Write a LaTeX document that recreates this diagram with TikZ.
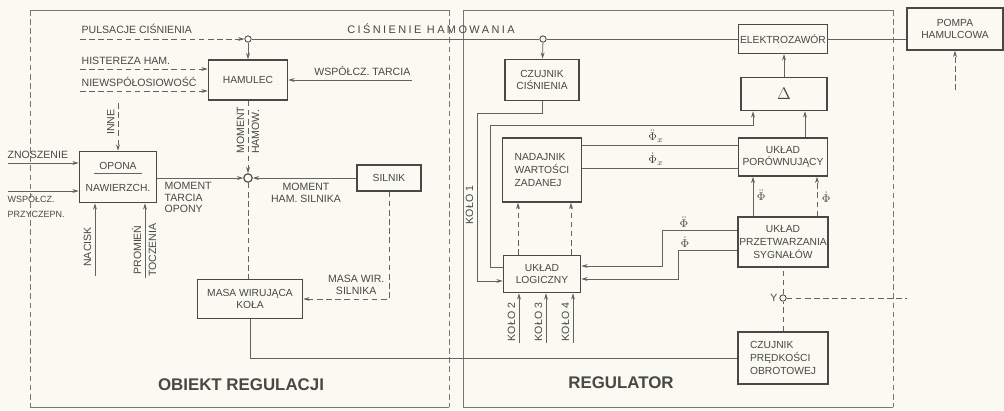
\documentclass[tikz,border=0pt]{standalone}
\usepackage{fontspec}
\setmainfont{Liberation Sans}
\usepackage{xcolor}
\usepackage{tikz}
\usetikzlibrary{arrows.meta,positioning,calc}
\definecolor{paper}{RGB}{250,250,242}
\definecolor{ink}{RGB}{72,72,68}

\begin{document}
\begin{tikzpicture}[x=0.025cm, y=-0.025cm,
    blok/.style={draw=ink, line width=1pt, align=center, inner sep=1pt, text=ink, font=\fontsize{7.3}{9}\selectfont},
    lbl/.style={text=ink, inner sep=1pt, font=\fontsize{7.5}{8.5}\selectfont},
    fi/.style={text=ink, inner sep=0.5pt, font=\fontsize{8.5}{9}\selectfont},
    lin/.style={draw=ink!85, line width=0.55pt},
    arrow/.style={lin, -{Stealth[length=4.5pt,width=2.8pt]}},
    dashline/.style={dash pattern=on 4pt off 2.5pt},
    wezel/.style={circle, draw=ink, fill=paper, line width=0.6pt, inner sep=0pt, minimum size=4.5pt},
    ramka/.style={draw=ink!75, line width=0.5pt},
    big/.style={text=ink, font=\bfseries\fontsize{12}{13}\selectfont}
]
    \path[use as bounding box, fill=paper] (0,0) rectangle (1004,410);

    % frames
    \draw[ramka] (30,10) -- (449,10) (30,407) -- (449,407);
    \draw[ramka, dashline] (30,10) -- (30,407) (449,10) -- (449,407);
    \draw[ramka] (893,10) -- (463,10) -- (463,407) -- (893,407);
    \draw[ramka, dashline] (893,10) -- (893,407);
    \node[big] (obiekt) at (241,385) {OBIEKT REGULACJI};
    \node[big] (regulator) at (621,383) {REGULATOR};

    % blocks of the controlled object
    \node[blok, minimum width=1.98cm, minimum height=1cm] (hamulec) at (248,80) {HAMULEC};
    \node[blok, minimum width=1.93cm, minimum height=1.28cm] (opona) at (118,177) {OPONA\\[6pt]NAWIERZCH.};
    \draw[lin] (94,173) -- (142,173);
    \node[blok, minimum width=1.6cm, minimum height=0.65cm] (silnik) at (389,178) {SILNIK};
    \node[blok, minimum width=2.63cm, minimum height=0.98cm] (masa) at (250,299) {MASA WIRUJĄCA\\KOŁA};

    % blocks of the regulator
    \node[blok, minimum width=1.85cm, minimum height=1.03cm] (czcisn) at (542,80) {CZUJNIK\\CIŚNIENIA};
    \node[blok, minimum width=2.23cm, minimum height=0.72cm] (elektro) at (783,39) {ELEKTROZAWÓR};
    \node[blok, minimum width=2.4cm, minimum height=1.05cm] (pompa) at (955,29) {POMPA\\HAMULCOWA};
    \node[blok, minimum width=2.15cm, minimum height=0.83cm, font=\large] (delta) at (784,94) {$\Delta$};
    \node[blok, minimum width=2.23cm, minimum height=0.95cm] (porown) at (783,157) {UKŁAD\\PORÓWNUJĄCY};
    \node[blok, minimum width=2.23cm, minimum height=1.25cm] (przetw) at (783,242) {UKŁAD\\PRZETWARZANIA\\SYGNAŁÓW};
    \node[blok, minimum width=1.98cm, minimum height=1.6cm, align=left] (nadajnik) at (542,170) {NADAJNIK\\WARTOŚCI\\ZADANEJ};
    \node[blok, minimum width=1.93cm, minimum height=0.93cm] (logiczny) at (542,274) {UKŁAD\\LOGICZNY};
    \node[blok, minimum width=2.25cm, minimum height=1.3cm, align=left] (czpred) at (783,358) {CZUJNIK\\PRĘDKOŚCI\\OBROTOWEJ};

    % brake pressure line
    \coordinate (pulsIn) at (80,39);
    \node[wezel] (w1) at (248,39) {};
    \node[wezel] (w2) at (543,39) {};
    \draw[arrow, dashline] (pulsIn) -- (w1);
    \node[lbl, anchor=south west] (pulsL) at (80,35) {PULSACJE CIŚNIENIA};
    \draw[arrow] (w1) -- (hamulec);
    \draw[lin] (w1) -- (w2);
    \draw[lin] (w2) -- (elektro);
    \node[lbl, anchor=south, font=\fontsize{7.8}{9}\selectfont\addfontfeature{LetterSpace=22}] (cisnL) at (431,35) {CIŚNIENIE HAMOWANIA};
    \draw[arrow] (w2) -- (czcisn);
    \draw[lin] (elektro) -- (pompa.west |- elektro.east);
    \coordinate (pompaIn) at (955,90);
    \draw[arrow, dashline] (pompaIn) -- (pompa);

    % inputs of the brake
    \coordinate (histIn) at (80,69);
    \coordinate (niewIn) at (80,91);
    \coordinate (tarcIn) at (412,80);
    \draw[arrow, dashline] (histIn) -- (hamulec.west |- histIn);
    \draw[arrow, dashline] (niewIn) -- (hamulec.west |- niewIn);
    \draw[arrow] (tarcIn) -- (hamulec.east |- tarcIn);
    \node[lbl, anchor=south west] (histL) at (80,66) {HISTEREZA HAM.};
    \node[lbl, anchor=south west] (niewL) at (80,88) {NIEWSPÓŁOSIOWOŚĆ};
    \node[lbl, anchor=south east] (tarcL) at (412,77) {WSPÓŁCZ. TARCIA};

    % inputs of the tyre
    \coordinate (inneIn) at (118,103);
    \coordinate (znosIn) at (8,163);
    \coordinate (przyIn) at (8,191);
    \coordinate (naciIn) at (95,276);
    \coordinate (promIn) at (145,278);
    \draw[arrow, dashline] (inneIn) -- (opona);
    \draw[arrow] (znosIn) -- (opona.west |- znosIn);
    \draw[arrow] (przyIn) -- (opona.west |- przyIn);
    \draw[arrow] (naciIn) -- (opona.south -| naciIn);
    \draw[arrow] (promIn) -- (opona.south -| promIn);
    \node[lbl, rotate=90, anchor=south] (inneL) at (116,122) {INNE};
    \node[lbl, anchor=south west] (znosL) at (6,160) {ZNOSZENIE};
    \node[lbl, anchor=north west, align=left, font=\fontsize{6.4}{11}\selectfont] (przyL) at (6,193) {WSPÓŁCZ.\\PRZYCZEPN.};
    \node[lbl, rotate=90, anchor=south] (naciL) at (93,247) {NACISK};
    \node[lbl, rotate=90, anchor=south] (promL) at (143,250) {PROMIEŃ};
    \node[lbl, rotate=90, anchor=north] (toczL) at (147,250) {TOCZENIA};

    % summing point of the moments
    \node[circle, draw=ink, line width=0.8pt, inner sep=0pt, minimum size=6pt] (suma) at (248,178) {};
    \draw[arrow] (opona.east |- suma) -- (suma);
    \draw[arrow, dashline] (hamulec) -- (suma);
    \draw[arrow] (silnik) -- (suma);
    \draw[lin, dashline] (suma) -- (suma |- masa.north);
    \node[lbl, rotate=90, anchor=south] (momhL) at (246,130) {MOMENT};
    \node[lbl, rotate=90, anchor=north] (hamowL) at (250,132) {HAMOW.};
    \node[lbl, anchor=north west, align=left] (momtL) at (163,180) {MOMENT\\TARCIA\\OPONY};
    \node[lbl, anchor=north, align=center] (momsL) at (306,181) {MOMENT\\HAM. SILNIKA};

    % rotating mass
    \draw[arrow, dashline] (silnik.south) |- (masa.east);
    \node[lbl, anchor=south east, align=center] (masaL) at (386,296) {MASA WIR.\\SILNIKA};
    \draw[lin] (masa.south) |- (czpred.west);

    % regulator connections
    \draw[arrow] (czcisn.south) |- (477,113) |- (logiczny.west |- 0,281);
    \node[lbl, rotate=90, anchor=south] (kolo1L) at (475,205) {KOŁO 1};
    \draw[arrow] (logiczny.west |- 0,267) -| (490,125) -| (delta.south -| 753,0);
    \draw[arrow] (porown.north -| 805,0) -- (delta.south -| 805,0);
    \draw[arrow] (delta.north) -- (elektro.south -| delta.north);
    \draw[lin] (nadajnik.east |- 0,145) -- (porown.west |- 0,145);
    \draw[lin] (nadajnik.east |- 0,168) -- (porown.west |- 0,168);
    \node[fi, anchor=south] (fi1L) at (656,143) {$\ddot{\Phi}_x$};
    \node[fi, anchor=south] (fi2L) at (656,166) {$\dot{\Phi}_x$};
    \draw[arrow, dashline] (logiczny.north -| 518,0) -- (nadajnik.south -| 518,0);
    \draw[arrow, dashline] (logiczny.north -| 571,0) -- (nadajnik.south -| 571,0);
    \draw[arrow] (przetw.north -| 753,0) -- (porown.south -| 753,0);
    \draw[arrow, dashline] (przetw.north -| 817,0) -- (porown.south -| 817,0);
    \node[fi, anchor=west] (fi3L) at (756,195) {$\ddot{\Phi}$};
    \node[fi, anchor=west] (fi4L) at (821,197) {$\dot{\Phi}$};
    \draw[arrow] (przetw.west |- 0,230) -| (662,266) -- (logiczny.east |- 0,266);
    \draw[arrow] (przetw.west |- 0,250) -| (678,279) -- (logiczny.east |- 0,279);
    \node[fi, anchor=south] (fi5L) at (684,228) {$\ddot{\Phi}$};
    \node[fi, anchor=south] (fi6L) at (685,248) {$\dot{\Phi}$};

    % other wheels
    \coordinate (kolo2In) at (519,343);
    \coordinate (kolo3In) at (546,343);
    \coordinate (kolo4In) at (573,343);
    \draw[arrow] (kolo2In) -- (logiczny.south -| kolo2In);
    \draw[arrow] (kolo3In) -- (logiczny.south -| kolo3In);
    \draw[arrow] (kolo4In) -- (logiczny.south -| kolo4In);
    \node[lbl, rotate=90, anchor=south] (kolo2L) at (517,322) {KOŁO 2};
    \node[lbl, rotate=90, anchor=south] (kolo3L) at (544,322) {KOŁO 3};
    \node[lbl, rotate=90, anchor=south] (kolo4L) at (571,322) {KOŁO 4};

    % speed sensor branch
    \node[wezel] (ywez) at (783,298) {};
    \coordinate (yOut) at (907,298);
    \draw[lin, dashline] (czpred) -- (ywez);
    \draw[lin, dashline] (ywez) -- (przetw);
    \draw[lin, dashline] (ywez) -- (yOut);
    \node[lbl, anchor=east] (yL) at (779,298) {Y};
\end{tikzpicture}
\end{document}
